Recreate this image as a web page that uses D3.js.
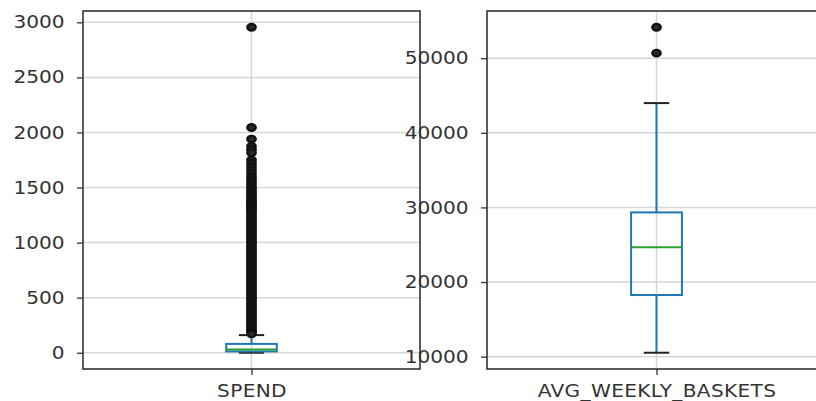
<!DOCTYPE html>
<html>
<head>
<meta charset="utf-8">
<script src="https://cdn.jsdelivr.net/npm/d3@7"></script>
<style>
  body { margin: 0; background: #fff; }
  svg { display: block; }
</style>
</head>
<body>
<div id="chart"></div>
<script>
// box plot summary per column
const categories = ["SPEND", "AVG_WEEKLY_BASKETS"];
const whiskerLow = [0, 10530];
const q1 = [12, 18260];
const medians = [30, 24650];
const q3 = [80, 29330];
const whiskerHigh = [160, 43980];

const spendFliers = [2955, 2045, 1940, 1875, 1845, 1815, 1750, 1720, 1690, 1660,
    1630, 1600, 1575, 1550, 1525, 1500, 1480, 1460, 1440, 1420, 1400, 1385, 1370, 1355,
    1340, 1325, 1310, 1295, 1280, 1260, 1240, 1220, 1200, 1180, 1160, 1140, 1120, 1100,
    1080, 1060, 1040, 1020, 1000, 980, 960, 940, 920, 900, 880, 860, 840, 820, 800, 780,
    760, 740, 720, 700, 680, 660, 640, 620, 600, 580, 560, 540, 520, 500, 480, 460, 440,
    420, 400, 380, 360, 340, 320, 300, 280, 260, 240, 220, 200, 185, 172];
const basketFliers = [54140, 50680];
const fliers = [spendFliers, basketFliers];

const spendTicks = [0, 500, 1000, 1500, 2000, 2500, 3000];
const basketTicks = [10000, 20000, 30000, 40000, 50000];
const yTicks = [spendTicks, basketTicks];

const width = 816, height = 401;
const plotTop = 11, plotBottom = 369;
const panels = [[83, 420], [487, 826]];
const stretch = 1.15; // the picture is stretched sideways
const blue = "#1f77b4", green = "#2ca02c", textColor = "#333";
const font = "'DejaVu Sans', sans-serif";

const svg = d3.select("#chart")
    .append("svg")
    .attr("width", width)
    .attr("height", height);

categories.forEach((name, i) => {
    const [x0, x1] = panels[i];
    const lo = d3.min([whiskerLow[i], d3.min(fliers[i])]);
    const hi = d3.max([whiskerHigh[i], d3.max(fliers[i])]);
    const pad = (hi - lo) * 0.05;

    const x = d3.scaleLinear().domain([0.5, 1.5]).range([x0, x1]);
    const y = d3.scaleLinear().domain([lo - pad, hi + pad]).range([plotBottom, plotTop]);

    const g = svg.append("g");

    // grid
    g.selectAll(".hgrid")
        .data(yTicks[i])
        .enter()
        .append("line")
        .attr("x1", x0).attr("x2", x1)
        .attr("y1", d => y(d)).attr("y2", d => y(d))
        .attr("stroke", "#d6d6d6")
        .attr("stroke-width", 1.5);
    g.append("line")
        .attr("x1", x(1)).attr("x2", x(1))
        .attr("y1", plotTop).attr("y2", plotBottom)
        .attr("stroke", "#d6d6d6")
        .attr("stroke-width", 1.5);

    // y axis
    const yAxis = g.append("g")
        .attr("transform", `translate(${x0},0)`)
        .call(d3.axisLeft(y).tickValues(yTicks[i]).tickSize(6).tickPadding(10).tickFormat(d3.format("d")));
    yAxis.select(".domain").remove();
    yAxis.selectAll(".tick line").attr("stroke", textColor).attr("stroke-width", 1.3);
    yAxis.selectAll(".tick text")
        .attr("fill", textColor)
        .style("font-family", font)
        .style("font-size", "17.5px")
        .attr("transform", `scale(${stretch},1)`);

    // x axis
    const xAxis = g.append("g")
        .attr("transform", `translate(0,${plotBottom})`)
        .call(d3.axisBottom(x).tickValues([1]).tickSize(6).tickPadding(0).tickFormat(() => name));
    xAxis.select(".domain").remove();
    xAxis.selectAll(".tick line").attr("stroke", textColor).attr("stroke-width", 1.3);
    xAxis.selectAll(".tick text")
        .attr("fill", textColor)
        .attr("dy", "0")
        .attr("y", 28)
        .style("font-family", font)
        .style("font-size", "17.5px")
        .style("letter-spacing", "0.3px")
        .attr("transform", `scale(${stretch},1)`);

    const half = 0.075; // box width 0.15
    const cx = x(1);

    // whiskers
    g.append("line")
        .attr("x1", cx).attr("x2", cx)
        .attr("y1", y(q3[i])).attr("y2", y(whiskerHigh[i]))
        .attr("stroke", blue).attr("stroke-width", 2);
    g.append("line")
        .attr("x1", cx).attr("x2", cx)
        .attr("y1", y(q1[i])).attr("y2", y(whiskerLow[i]))
        .attr("stroke", blue).attr("stroke-width", 2);

    // caps
    g.selectAll(".cap")
        .data([whiskerLow[i], whiskerHigh[i]])
        .enter()
        .append("line")
        .attr("x1", x(1 - half / 2)).attr("x2", x(1 + half / 2))
        .attr("y1", d => y(d)).attr("y2", d => y(d))
        .attr("stroke", "#222").attr("stroke-width", 2);

    // box
    g.append("rect")
        .attr("x", x(1 - half))
        .attr("width", x(1 + half) - x(1 - half))
        .attr("y", y(q3[i]))
        .attr("height", y(q1[i]) - y(q3[i]))
        .attr("fill", "none")
        .attr("stroke", blue)
        .attr("stroke-width", 2);

    // median
    g.append("line")
        .attr("x1", x(1 - half)).attr("x2", x(1 + half))
        .attr("y1", y(medians[i])).attr("y2", y(medians[i]))
        .attr("stroke", green).attr("stroke-width", 2);

    // outliers
    g.selectAll(".flier")
        .data(fliers[i])
        .enter()
        .append("ellipse")
        .attr("cx", cx)
        .attr("cy", d => y(d))
        .attr("rx", 4.2)
        .attr("ry", 3.2)
        .attr("fill", "#2a2a2a")
        .attr("stroke", "#111")
        .attr("stroke-width", 2.4);

    // frame
    g.append("rect")
        .attr("x", x0).attr("y", plotTop)
        .attr("width", x1 - x0).attr("height", plotBottom - plotTop)
        .attr("fill", "none")
        .attr("stroke", "#333")
        .attr("stroke-width", 1.6);
});
</script>
</body>
</html>
